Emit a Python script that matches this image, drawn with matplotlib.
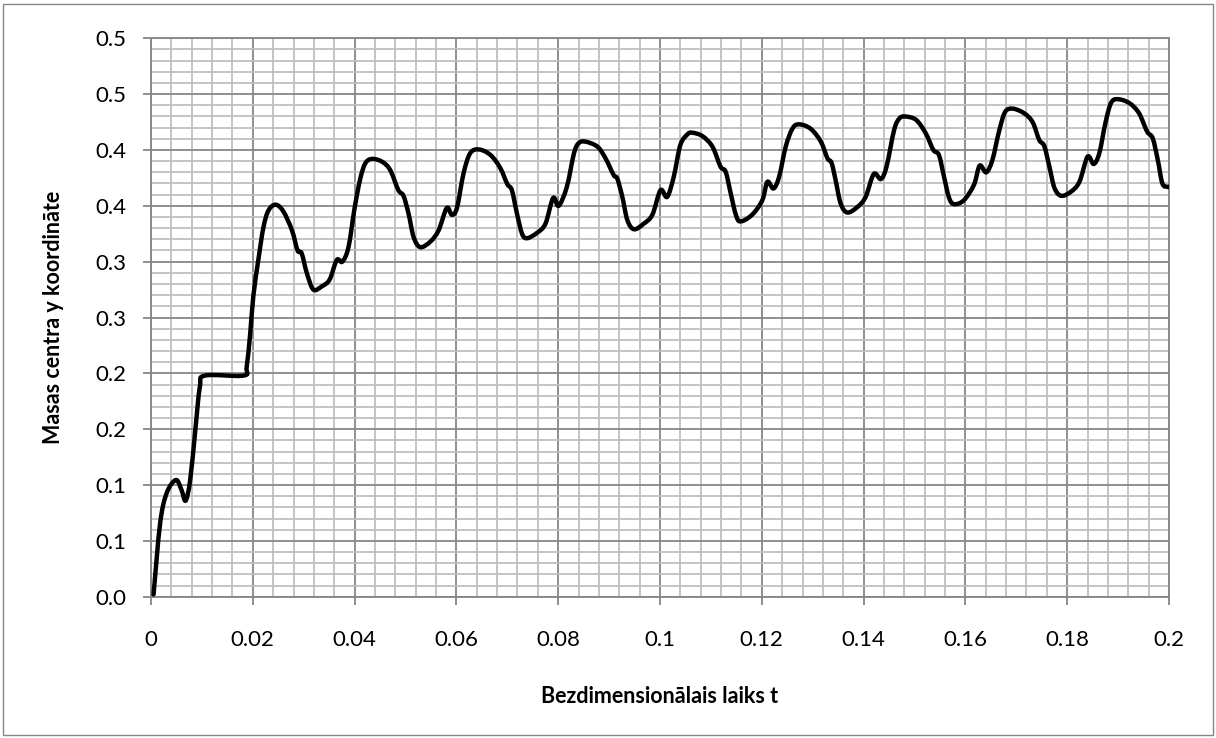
"""Masas centra y koordināte vs bezdimensionālais laiks (Excel-style line chart)."""

import matplotlib

matplotlib.use("Agg")

import matplotlib.pyplot as plt
import numpy as np
from matplotlib.patches import PathPatch, Rectangle
from matplotlib.path import Path
from matplotlib.ticker import FixedLocator, MultipleLocator

plt.rcParams["font.family"] = ["Lato", "DejaVu Sans"]

# curve values
t_values = [
    0.0005, 0.0018, 0.0031, 0.0049, 0.0060, 0.0068, 0.0077, 0.0087, 0.0096, 0.0106,
    0.0182, 0.0188, 0.0195, 0.0201, 0.0211, 0.0221, 0.0231, 0.0245, 0.0260, 0.0277,
    0.0288, 0.0296, 0.0306, 0.0319, 0.0336, 0.0351, 0.0365, 0.0376, 0.0388, 0.0400,
    0.0411, 0.0421, 0.0434, 0.0454, 0.0470, 0.0486, 0.0496, 0.0506, 0.0516, 0.0529,
    0.0549, 0.0565, 0.0581, 0.0591, 0.0601, 0.0614, 0.0627, 0.0644, 0.0667, 0.0686,
    0.0700, 0.0709, 0.0719, 0.0729, 0.0739, 0.0759, 0.0775, 0.0790, 0.0801, 0.0817,
    0.0831, 0.0840, 0.0853, 0.0877, 0.0893, 0.0909, 0.0916, 0.0926, 0.0936, 0.0949,
    0.0968, 0.0985, 0.1001, 0.1014, 0.1027, 0.1040, 0.1054, 0.1063, 0.1083, 0.1103,
    0.1119, 0.1129, 0.1139, 0.1149, 0.1158, 0.1181, 0.1201, 0.1211, 0.1223, 0.1234,
    0.1247, 0.1260, 0.1273, 0.1296, 0.1316, 0.1329, 0.1337, 0.1345, 0.1355, 0.1368,
    0.1388, 0.1404, 0.1420, 0.1434, 0.1445, 0.1460, 0.1470, 0.1481, 0.1503, 0.1522,
    0.1537, 0.1548, 0.1558, 0.1568, 0.1578, 0.1597, 0.1617, 0.1628, 0.1641, 0.1653,
    0.1666, 0.1678, 0.1693, 0.1715, 0.1732, 0.1745, 0.1755, 0.1765, 0.1775, 0.1788,
    0.1807, 0.1824, 0.1840, 0.1852, 0.1863, 0.1875, 0.1886, 0.1899, 0.1922, 0.1941,
    0.1957, 0.1968, 0.1978, 0.1987, 0.1997, 0.2000,
]
y_values = [
    0.002, 0.066, 0.093, 0.1045, 0.0955, 0.086, 0.1045, 0.149, 0.188, 0.198,
    0.198, 0.206, 0.236, 0.269, 0.302, 0.331, 0.346, 0.351, 0.345, 0.328,
    0.310, 0.3075, 0.290, 0.275, 0.278, 0.284, 0.3015, 0.300, 0.313, 0.348,
    0.374, 0.388, 0.392, 0.3895, 0.382, 0.364, 0.359, 0.343, 0.322, 0.313,
    0.318, 0.328, 0.348, 0.342, 0.348, 0.379, 0.397, 0.4005, 0.3955, 0.384,
    0.3695, 0.364, 0.343, 0.325, 0.321, 0.326, 0.334, 0.357, 0.350, 0.367,
    0.397, 0.406, 0.4075, 0.403, 0.3925, 0.3775, 0.3745, 0.358, 0.337, 0.329,
    0.334, 0.342, 0.364, 0.358, 0.376, 0.4045, 0.414, 0.4155, 0.4125, 0.403,
    0.385, 0.3805, 0.361, 0.342, 0.336, 0.342, 0.355, 0.3715, 0.3655, 0.376,
    0.403, 0.419, 0.423, 0.419, 0.4075, 0.3925, 0.3885, 0.373, 0.352, 0.344,
    0.349, 0.358, 0.3785, 0.374, 0.385, 0.418, 0.428, 0.430, 0.427, 0.415,
    0.400, 0.3955, 0.376, 0.357, 0.3515, 0.355, 0.369, 0.386, 0.380, 0.391,
    0.4165, 0.434, 0.437, 0.433, 0.425, 0.409, 0.4035, 0.385, 0.366, 0.359,
    0.3625, 0.3715, 0.394, 0.3875, 0.397, 0.424, 0.442, 0.4455, 0.442, 0.433,
    0.4165, 0.4105, 0.391, 0.370, 0.367, 0.367,
]

x_ticks = [0, 0.02, 0.04, 0.06, 0.08, 0.1, 0.12, 0.14, 0.16, 0.18, 0.2]
x_tick_labels = ["0", "0.02", "0.04", "0.06", "0.08", "0.1", "0.12", "0.14", "0.16", "0.18", "0.2"]
y_ticks = [0.0, 0.05, 0.1, 0.15, 0.2, 0.25, 0.3, 0.35, 0.4, 0.45, 0.5]
y_tick_labels = ["0.0", "0.1", "0.1", "0.2", "0.2", "0.3", "0.3", "0.4", "0.4", "0.5", "0.5"]

x_label = "Bezdimensionālais laiks t"
y_label = "Masas centra y koordināte"

MAJOR_GRID = "#868686"
MINOR_GRID = "#bfbfbf"


def smooth_path(xs, ys) -> Path:
    """Excel-like smoothed line: cubic Bezier segments through every point."""
    pts = np.column_stack([xs, ys])
    verts = [pts[0]]
    codes = [Path.MOVETO]
    n = len(pts)
    for i in range(n - 1):
        p0 = pts[max(i - 1, 0)]
        p1 = pts[i]
        p2 = pts[i + 1]
        p3 = pts[min(i + 2, n - 1)]
        c1 = p1 + (p2 - p0) / 6
        c2 = p2 - (p3 - p1) / 6
        verts += [c1, c2, p2]
        codes += [Path.CURVE4] * 3
    return Path(verts, codes)


def main() -> None:
    fig = plt.figure(figsize=(12.16, 7.38), dpi=100)
    ax = fig.add_axes([151 / 1216, 1 - 596.7 / 738, (1169 - 151) / 1216, (596.7 - 38.3) / 738])

    curve = PathPatch(smooth_path(t_values, y_values), facecolor="none",
                      edgecolor="black", linewidth=3.2, joinstyle="round",
                      capstyle="round", zorder=5)
    ax.add_patch(curve)

    ax.set_xlim(0, 0.2)
    ax.set_ylim(0, 0.5)
    ax.xaxis.set_major_locator(FixedLocator(x_ticks))
    ax.yaxis.set_major_locator(FixedLocator(y_ticks))
    ax.set_xticklabels(x_tick_labels)
    ax.set_yticklabels(y_tick_labels)
    ax.xaxis.set_minor_locator(MultipleLocator(0.004))
    ax.yaxis.set_minor_locator(MultipleLocator(0.01))

    ax.grid(which="minor", color=MINOR_GRID, linewidth=1.3)
    ax.grid(which="major", color=MAJOR_GRID, linewidth=1.3)
    ax.set_axisbelow(True)

    ax.tick_params(which="major", length=6, width=1.3, color=MAJOR_GRID,
                   labelsize=16, labelcolor="black")
    ax.tick_params(axis="x", which="major", pad=18)
    ax.tick_params(axis="y", which="major", pad=12)
    ax.tick_params(which="minor", length=0)

    for spine in ax.spines.values():
        spine.set_color(MAJOR_GRID)
        spine.set_linewidth(1.3)

    ax.set_xlabel(x_label, fontsize=15.5, fontweight="bold", labelpad=26)
    ax.set_ylabel(y_label, fontsize=15.5, fontweight="bold", labelpad=22)

    # chart area border
    fig.patches.append(Rectangle((3 / 1216, 3 / 738), 1210 / 1216, 731 / 738,
                                 transform=fig.transFigure, fill=False,
                                 edgecolor=MAJOR_GRID, linewidth=1.0))

    fig.savefig("out.png", dpi=100)


if __name__ == "__main__":
    main()
